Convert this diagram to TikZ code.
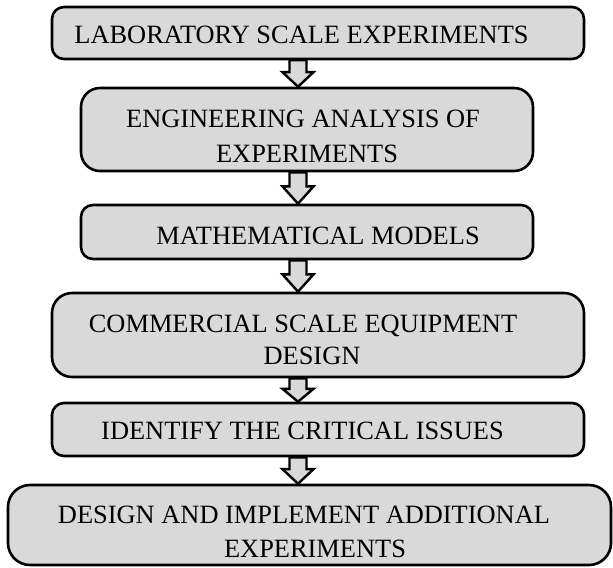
\documentclass[tikz,border=0pt]{standalone}
\usepackage{fontspec}
\setmainfont{Liberation Serif}
\usetikzlibrary{calc}
\definecolor{boxgrey}{HTML}{D9D9D9}
\newcommand{\blockarrow}[2] % upper box, lower box
{
	% shaft starts under the upper box, tip touches the lower one
	\coordinate (top) at (#1.south -| axis);
	\coordinate (tip) at (#2.north -| axis);
	\coordinate (neck) at ($(top)!0.45!(tip)$);
	\draw[line width=1.2pt, fill=boxgrey] ($(top)+(-8.5,0)$) -- ($(neck)+(-8.5,0)$) -- ($(neck)+(-15.5,0)$) -- (tip) -- ($(neck)+(15.5,0)$) -- ($(neck)+(8.5,0)$) -- ($(top)+(8.5,0)$) -- cycle;
}

\begin{document}
\begin{tikzpicture}[x=0.5pt, y=-0.5pt,
	box/.style={draw, line width=1.3pt, fill=boxgrey, inner sep=0pt},
	txt/.style={anchor=base, inner sep=0pt, font=\fontsize{13.2}{16}\selectfont}]
	\useasboundingbox (0,0) rectangle (613,567);
	% all arrows on one vertical axis
	\coordinate (axis) at (298,0);
	
	% boxes, top to bottom
	\node[box, rounded corners=6pt, minimum width=266pt, minimum height=26pt] (lab) at (318,33) {};
	\node[box, rounded corners=9.5pt, minimum width=226pt, minimum height=41.5pt] (eng) at (307,129.5) {};
	\node[box, rounded corners=6pt, minimum width=226pt, minimum height=27pt] (math) at (307,232) {};
	\node[box, rounded corners=10pt, minimum width=266pt, minimum height=42pt] (comm) at (318,335) {};
	\node[box, rounded corners=6pt, minimum width=266pt, minimum height=26.5pt] (crit) at (318,429.5) {};
	\node[box, rounded corners=11pt, minimum width=301.5pt, minimum height=40pt] (add) at (309.5,525) {};
	
	% labels, one node per line
	\node[txt] (lab-t) at (301.5,44) {LABORATORY SCALE EXPERIMENTS};
	\node[txt] (eng-t1) at (303,127) {ENGINEERING ANALYSIS OF};
	\node[txt] (eng-t2) at (307,162) {EXPERIMENTS};
	\node[txt] (math-t) at (318,244) {MATHEMATICAL MODELS};
	\node[txt] (comm-t1) at (303,332) {COMMERCIAL SCALE EQUIPMENT};
	\node[txt] (comm-t2) at (312,364) {DESIGN};
	\node[txt] (crit-t) at (302.5,439) {IDENTIFY THE CRITICAL ISSUES};
	\node[txt] (add-t1) at (304,523) {DESIGN AND IMPLEMENT ADDITIONAL};
	\node[txt] (add-t2) at (315,557) {EXPERIMENTS};
	
	\blockarrow{lab}{eng};
	\blockarrow{eng}{math};
	\blockarrow{math}{comm};
	\blockarrow{comm}{crit};
	\blockarrow{crit}{add};
\end{tikzpicture}
\end{document}
